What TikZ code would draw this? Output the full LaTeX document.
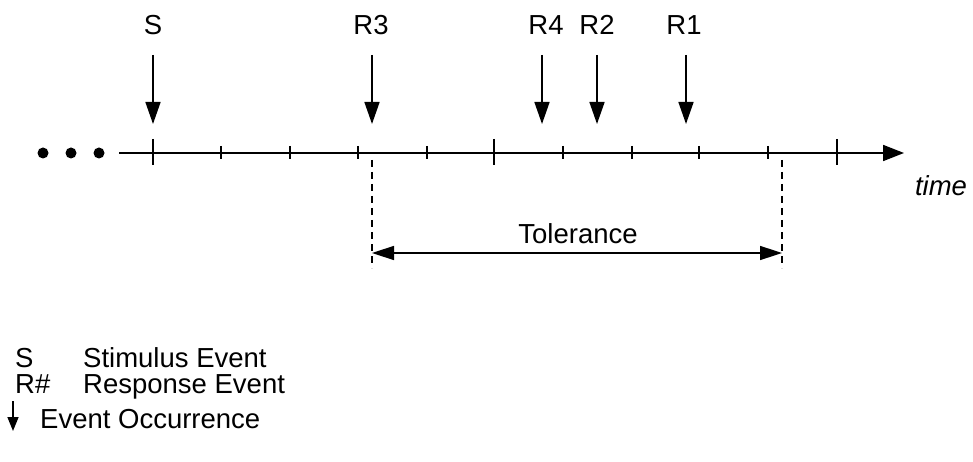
\documentclass[tikz,border=0pt]{standalone}
\usepackage{fontspec}
\setmainfont{Liberation Sans}
\usetikzlibrary{arrows.meta}
\begin{document}
\begin{tikzpicture}[x=1pt,y=-1pt,
  lbl/.style={font=\fontsize{27.5}{32}\selectfont, inner sep=0pt, anchor=base},
  lgd/.style={font=\fontsize{27.5}{32}\selectfont, inner sep=0pt, anchor=base west},
  evt/.style={line width=1.5pt, -{Triangle[length=22pt,width=15pt]}},
  majtick/.style={line width=1.8pt},
  mintick/.style={line width=1.5pt},
  tol/.style={line width=1.5pt, {Triangle[length=22pt,width=14pt]}-{Triangle[length=22pt,width=14pt]}},
  dashline/.style={line width=1.3pt, dash pattern=on 7pt off 5pt}]
\useasboundingbox (0,0) rectangle (973,462);
% dots
\foreach \i/\x in {1/43,2/71,3/99} \fill (\x,153) circle (5.5pt) coordinate (dot\i);
% axis
\coordinate (axs) at (119,153);
\coordinate (axe) at (904,153);
\draw[line width=1.8pt, -{Triangle[length=21pt,width=16pt]}] (axs) -- (axe);
% ticks
\foreach \x in {153,494,837} \draw[majtick] (\x,139) -- (\x,165);
\foreach \x in {221,290,358,427,563,632,699,768} \draw[mintick] (\x,146) -- (\x,159);
\node[lbl, font=\fontsize{27.5}{32}\selectfont\itshape] (time) at (941,196) {time};
% events
\foreach \n/\x/\lx in {S/153/153,R3/372/371,R4/542/546,R2/597/597,R1/686/684}{
  \node[lbl] (l\n) at (\lx,35) {\n};
  \coordinate (a\n) at (\x,55);
  \coordinate (b\n) at (\x,124);
  \draw[evt] (a\n) -- (b\n);
}
% tolerance
\coordinate (d1t) at (372,160);
\coordinate (d1b) at (372,268);
\coordinate (d2t) at (782,160);
\coordinate (d2b) at (782,268);
\draw[dashline] (d1t) -- (d1b);
\draw[dashline] (d2t) -- (d2b);
\coordinate (t1) at (372,253);
\coordinate (t2) at (782,253);
\draw[tol] (t1) -- (t2);
\node[lbl] (tolerance) at (578,243) {Tolerance};
% legend
\node[lgd] (kS) at (15,367) {S};
\node[lgd] (kSt) at (83,367) {Stimulus Event};
\node[lgd] (kR) at (15,393) {R\#};
\node[lgd] (kRt) at (83,393) {Response Event};
\coordinate (ka) at (13,401);
\coordinate (kb) at (13,431);
\draw[line width=1.5pt, -{Triangle[length=14pt,width=11pt]}] (ka) -- (kb);
\node[lgd] (kE) at (40,428) {Event Occurrence};
\end{tikzpicture}
\end{document}
